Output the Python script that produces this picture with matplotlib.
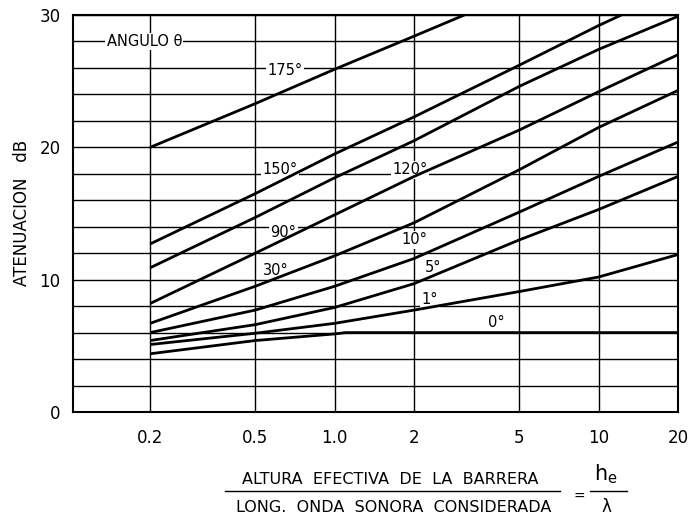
import numpy as np
import matplotlib.pyplot as plt
from matplotlib.lines import Line2D

# Valores (x = he / lambda, y = atenuacion dB)
x_grid = [0.2, 0.5, 1.0, 2, 5, 10, 20]

x_175 = [0.2, 0.5, 1.0, 2, 3.1]
a_175 = [20.0, 23.3, 25.9, 28.4, 30.0]
x_150 = [0.2, 0.5, 1.0, 2, 5, 10, 12.2]
a_150 = [12.7, 16.5, 19.5, 22.3, 26.2, 29.2, 30.0]
a_120 = [10.9, 14.7, 17.7, 20.5, 24.6, 27.4, 29.9]
a_90 = [8.2, 12.0, 14.9, 17.8, 21.3, 24.2, 27.0]
a_30 = [6.7, 9.5, 11.8, 14.3, 18.3, 21.5, 24.3]
a_10 = [6.0, 7.7, 9.5, 11.6, 15.1, 17.8, 20.4]
a_5 = [5.4, 6.6, 7.9, 9.7, 13.0, 15.3, 17.8]
a_1 = [5.1, 5.95, 6.7, 7.7, 9.1, 10.2, 11.9]
x_0 = [0.2, 0.5, 1.0, 1.1, 2, 5, 10, 20]
a_0 = [4.4, 5.4, 5.9, 6.0, 6.0, 6.0, 6.0, 6.0]

# Etiquetas de los angulos (texto, x, y)
etiquetas = ['175°', '150°', '120°', '90°', '30°', '10°', '5°', '1°', '0°']
etq_x = [0.65, 0.62, 1.93, 0.64, 0.60, 2.0, 2.35, 2.3, 4.1]
etq_y = [25.8, 18.3, 18.3, 13.6, 10.7, 13.0, 10.9, 8.5, 6.8]

fig = plt.figure(figsize=(6.9, 5.16), dpi=100)
ax = fig.add_axes([73/690, 1 - 412/516, (678 - 73)/690, (412 - 15)/516])

ax.set_xscale('log')
ax.set_xlim(0.102, 20)
ax.set_ylim(0, 30)

# Rejilla
ax.set_axisbelow(True)
ax.set_xticks(x_grid)
ax.set_xticklabels(['0.2', '0.5', '1.0', '2', '5', '10', '20'])
ax.xaxis.set_minor_locator(plt.NullLocator())
ax.set_yticks([0, 10, 20, 30])
ax.set_yticks(np.arange(2, 30, 2), minor=True)
ax.grid(True, which='both', color='black', lw=1.0)
ax.tick_params(which='both', length=0)
ax.tick_params(axis='y', pad=9, labelsize=12)
ax.tick_params(axis='x', pad=12, labelsize=12)
for s in ax.spines.values():
    s.set_linewidth(1.5)
    s.set_zorder(5)

# Curvas
kw = dict(color='black', lw=2.0, solid_capstyle='butt', zorder=3)
ax.plot(x_175, a_175, **kw)
ax.plot(x_150, a_150, **kw)
ax.plot(x_grid, a_120, **kw)
ax.plot(x_grid, a_90, **kw)
ax.plot(x_grid, a_30, **kw)
ax.plot(x_grid, a_10, **kw)
ax.plot(x_grid, a_5, **kw)
ax.plot(x_grid, a_1, **kw)
ax.plot(x_0, a_0, **kw)

caja = dict(facecolor='white', edgecolor='none', pad=1)
for t, xx, yy in zip(etiquetas, etq_x, etq_y):
    ax.text(xx, yy, t, fontsize=10.5, ha='center', va='center', bbox=caja, zorder=2.5)

ax.text(0.19, 28, 'ANGULO θ', fontsize=10.5, ha='center', va='center', bbox=caja, zorder=2.5)

# Etiquetas de ejes
fig.text(22/690, 1 - 213/516, 'ATENUACION   dB', rotation=90, fontsize=12,
         ha='center', va='center')

fig.text(390/690, 1 - 480/516, 'ALTURA  EFECTIVA  DE  LA  BARRERA', fontsize=11.5,
         ha='center', va='center')
fig.text(394/690, 1 - 507/516, 'LONG.  ONDA  SONORA  CONSIDERADA', fontsize=11.5,
         ha='center', va='center')
fig.add_artist(Line2D([225/690, 560/690], [1 - 491/516, 1 - 491/516], color='black', lw=1.0))
fig.text(579/690, 1 - 497/516, '=', fontsize=10, ha='center', va='center')
fig.text(606/690, 1 - 474/516, r'$\mathregular{h_e}$', fontsize=15, ha='center', va='center')
fig.add_artist(Line2D([590/690, 627/690], [1 - 491/516, 1 - 491/516], color='black', lw=1.0))
fig.text(606/690, 1 - 507/516, 'λ', fontsize=12, ha='center', va='center')

fig.savefig('out.png', dpi=100)
